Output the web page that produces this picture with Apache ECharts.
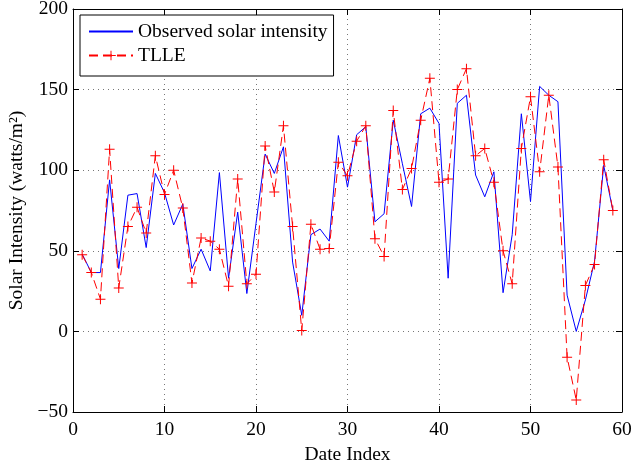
<!DOCTYPE html>
<html>
<head>
<meta charset="utf-8">
<script src="https://cdn.jsdelivr.net/npm/echarts@6/dist/echarts.min.js"></script>
<style>
html, body { margin: 0; padding: 0; background: #fff; }
#chart { width: 634px; height: 466px; }
</style>
</head>
<body>
<div id="chart"></div>
<script>
// date index (x)
const dateIndex = [1, 2, 3, 4, 5, 6, 7, 8, 9, 10, 11, 12, 13, 14, 15, 16, 17, 18, 19, 20,
    21, 22, 23, 24, 25, 26, 27, 28, 29, 30, 31, 32, 33, 34, 35, 36, 37, 38, 39, 40,
    41, 42, 43, 44, 45, 46, 47, 48, 49, 50, 51, 52, 53, 54, 55, 56, 57, 58, 59];

// observed solar intensity
const observed = [48, 36.5, 36.5, 94, 39, 84.5, 85.5, 52, 98, 86, 66, 79, 39, 51, 37.5, 98.5, 33, 74, 23.5, 67,
    110, 98, 114.5, 43, 10, 60, 63.5, 56, 121.5, 89.5, 122, 127, 68, 73, 131, 104, 77.5, 135, 138.5, 129,
    33, 141.5, 146.5, 97, 83.5, 99, 24, 60, 135, 80.5, 152, 146.5, 142.5, 22.5, 0, 19.5, 43.5, 103, 75];

// TLLE prediction
const tlle = [47.5, 36.5, 20, 113, 27, 65, 77, 61, 109, 85, 100, 76.5, 30, 58, 56, 51, 28, 94.5, 29.5, 35.5,
    115, 86.5, 127.5, 65, 0.5, 66.5, 51, 51.5, 105, 96.5, 118, 127.5, 57.5, 46.5, 137, 88, 101, 131, 157, 92.5,
    94.5, 150, 163, 109, 113.5, 92.5, 50, 29.5, 113.5, 145.5, 99, 146.5, 102, -16, -42.5, 28.5, 41.5, 106.5, 75];

const xTicks = [0, 10, 20, 30, 40, 50, 60];
const yTicks = [-50, 0, 50, 100, 150, 200];

const font = "'Liberation Serif', 'Times New Roman', serif";
const fs = 19.5;
const plus = 'path://M4.5,0H5.5V4.5H10V5.5H5.5V10H4.5V5.5H0V4.5H4.5Z';

function pairs(ys) {
    return dateIndex.map(function (x, i) { return [x, ys[i]]; });
}

function axisX(main) {
    return {
        type: 'value',
        position: main ? 'bottom' : 'top',
        min: xTicks[0],
        max: xTicks[xTicks.length - 1],
        interval: xTicks[1] - xTicks[0],
        axisLine: { show: true, onZero: false, lineStyle: { color: '#000', width: 1 } },
        axisTick: { show: true, inside: true, length: 6, lineStyle: { color: '#000' } },
        axisLabel: { show: main, color: '#000', fontSize: fs, fontFamily: font, margin: 8 },
        splitLine: { show: main, lineStyle: { color: '#777', type: [1, 4] } },
        name: main ? 'Date Index' : '',
        nameLocation: 'middle',
        nameGap: 31,
        nameTextStyle: { color: '#000', fontSize: fs, fontFamily: font }
    };
}

function axisY(main) {
    return {
        type: 'value',
        position: main ? 'left' : 'right',
        min: yTicks[0],
        max: yTicks[yTicks.length - 1],
        interval: yTicks[1] - yTicks[0],
        axisLine: { show: true, onZero: false, lineStyle: { color: '#000', width: 1 } },
        axisTick: { show: true, inside: true, length: 6, lineStyle: { color: '#000' } },
        axisLabel: {
            show: main, color: '#000', fontSize: fs, fontFamily: font, margin: 5,
            formatter: function (v) { return String(v).replace('-', '\u2212'); }
        },
        splitLine: { show: main, lineStyle: { color: '#777', type: [1, 4] } },
        name: main ? 'Solar Intensity (watts/m\u00b2)' : '',
        nameLocation: 'middle',
        nameGap: 39,
        nameTextStyle: { color: '#000', fontSize: fs, fontFamily: font }
    };
}

const chart = echarts.init(document.getElementById('chart'));
chart.setOption({
    animation: false,
    backgroundColor: '#fff',
    grid: { left: 73, right: 12, top: 9, bottom: 54, outerBoundsMode: 'none' },
    legend: {
        orient: 'vertical',
        left: 80,
        top: 15,
        padding: [6, 6, 10, 8],
        itemGap: 3,
        itemWidth: 44,
        itemHeight: 12,
        borderColor: '#000',
        borderWidth: 1,
        backgroundColor: '#fff',
        textStyle: { color: '#000', fontSize: fs, fontFamily: font, lineHeight: 21 },
        data: [
            { name: 'Observed solar intensity', itemStyle: { opacity: 0 } },
            { name: 'TLLE' }
        ]
    },
    xAxis: [axisX(true), axisX(false)],
    yAxis: [axisY(true), axisY(false)],
    series: [
        {
            name: 'Observed solar intensity',
            type: 'line',
            data: pairs(observed),
            symbol: 'none',
            lineStyle: { color: '#0000ff', width: 1 },
            itemStyle: { color: '#0000ff' }
        },
        {
            name: 'TLLE',
            type: 'line',
            data: pairs(tlle),
            symbol: plus,
            symbolSize: 10,
            lineStyle: { color: '#ff0000', width: 1, type: [9, 5] },
            itemStyle: { color: '#ff0000' }
        }
    ]
});
</script>
</body>
</html>
